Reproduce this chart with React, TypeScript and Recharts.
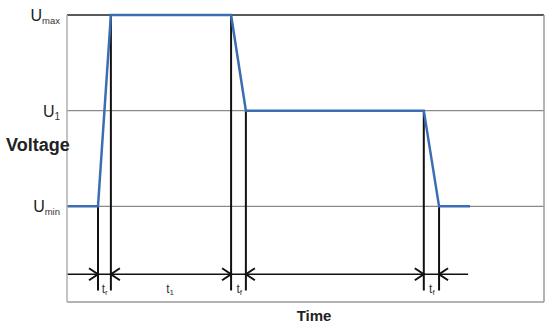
import React from 'react';
import { LineChart, Line, XAxis, YAxis, ReferenceLine, ReferenceDot, Label } from 'recharts';

// signal: time (arbitrary units 0..100) vs voltage level (Umin=1, U1=2, Umax=3)
const times = [0, 6.5, 9.2, 34.4, 37.5, 74.8, 78.0, 84.5];
const volts = [1, 1, 3, 3, 2, 2, 1, 1];
const yTicks = [1, 2, 3];
const yTickSubs = ['min', '1', 'max'];
// vertical marker lines: time and top level
const markerTimes = [6.5, 9.2, 34.4, 37.5, 74.8, 78.0];
const markerTops = [1, 3, 3, 2, 2, 1];
const markerDirs = ['right', 'left', 'right', 'left', 'right', 'left'];
const markerBottom = 0.12;
const arrowLevel = 0.29;
const arrowEnd = 84.1;
// interval labels
const intervalTimes = [7.9, 21.6, 36.1, 76.5];
const intervalSubs = ['r', '1', 'f', 'f'];
const intervalLevel = 0.12;

const data = times.map((t, i) => ({ t, v: volts[i] }));

const FONT = '"Liberation Sans", Arial, sans-serif';

const YTick = (props: any) => {
  const { x, y, payload } = props;
  const idx = yTicks.indexOf(payload.value);
  const sub = yTickSubs[idx];
  return (
    <text x={x + 1} y={y + 6} textAnchor="end" fontFamily={FONT} fontSize={16} fill="#222">
      U<tspan fontSize={sub === '1' ? 10 : 9.5} dy={3} fill="#333">{sub}</tspan>
    </text>
  );
};

const arrowShape = (dir: string) => (props: any) => {
  const { cx, cy } = props;
  const s = dir === 'right' ? -1 : 1;
  return (
    <path
      d={`M ${cx + s * 9} ${cy - 6} L ${cx} ${cy} L ${cx + s * 9} ${cy + 6}`}
      fill="none"
      stroke="#111"
      strokeWidth={2}
    />
  );
};

const labelShape = (sub: string) => (props: any) => {
  const { cx, cy } = props;
  return (
    <text x={cx} y={cy + 2} textAnchor="middle" fontFamily={FONT} fontSize={12} fill="#333">
      t<tspan fontSize={8} dy={2}>{sub}</tspan>
    </text>
  );
};

export default function App() {
  return (
    <div style={{ position: 'absolute', left: 0, top: 0, background: '#fff' }}>
      <LineChart width={554} height={333} data={data} margin={{ top: 15, right: 10, bottom: 0, left: 0 }}>
        <XAxis
          type="number"
          dataKey="t"
          domain={[0, 100]}
          tick={false}
          tickLine={false}
          height={31}
          axisLine={{ stroke: '#9a9a9a', strokeWidth: 1.5 }}
        >
          <Label
            content={() => (
              <text x={314} y={321} textAnchor="middle" fontFamily={FONT} fontSize={15} fontWeight="bold" fill="#222">
                Time
              </text>
            )}
          />
        </XAxis>
        <YAxis
          type="number"
          domain={[0, 3]}
          ticks={yTicks}
          tick={<YTick />}
          tickLine={false}
          width={67}
          axisLine={{ stroke: '#b0b0b0', strokeWidth: 1.5 }}
        >
          <Label
            content={() => (
              <text x={6} y={151} fontFamily={FONT} fontSize={18} fontWeight="bold" fill="#222">
                Voltage
              </text>
            )}
          />
        </YAxis>
        <ReferenceLine y={1} stroke="#8a8a8a" strokeWidth={1.2} />
        <ReferenceLine y={2} stroke="#8a8a8a" strokeWidth={1.2} />
        <ReferenceLine y={3} stroke="#222" strokeWidth={1.5} />
        <ReferenceLine x={100} stroke="#9a9a9a" strokeWidth={1.5} />
        <ReferenceLine
          segment={[{ x: 0, y: arrowLevel }, { x: arrowEnd, y: arrowLevel }]}
          stroke="#111"
          strokeWidth={1.5}
        />
        {markerTimes.map((t, i) => (
          <ReferenceLine
            key={'m' + i}
            segment={[{ x: t, y: markerTops[i] }, { x: t, y: markerBottom }]}
            stroke="#111"
            strokeWidth={2}
          />
        ))}
        {markerTimes.map((t, i) => (
          <ReferenceDot key={'a' + i} x={t} y={arrowLevel} r={0} shape={arrowShape(markerDirs[i])} />
        ))}
        {intervalTimes.map((t, i) => (
          <ReferenceDot key={'l' + i} x={t} y={intervalLevel} r={0} shape={labelShape(intervalSubs[i])} />
        ))}
        <Line
          type="linear"
          dataKey="v"
          stroke="#3b6db3"
          strokeWidth={2.5}
          dot={false}
          isAnimationActive={false}
        />
      </LineChart>
    </div>
  );
}
